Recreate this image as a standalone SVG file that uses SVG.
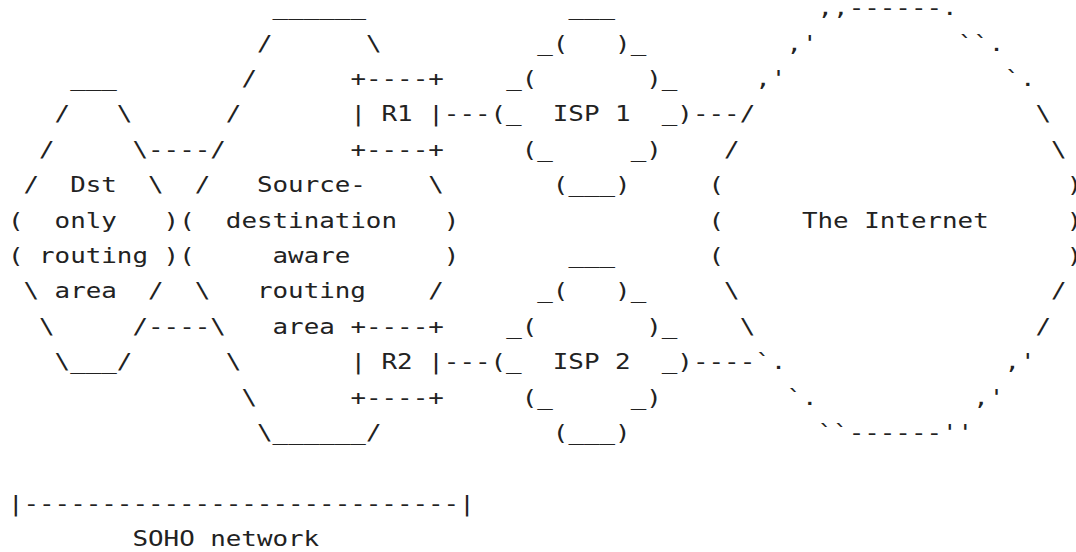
<svg xmlns="http://www.w3.org/2000/svg" width="1076" height="552" viewBox="0 0 1076 552">
<style>
text{font-family:"DejaVu Sans Mono","Liberation Mono",monospace;font-size:21.5px;fill:#222;white-space:pre}
</style>
<rect width="1076" height="552" fill="#fff"/>
<g transform="translate(7.9 0) scale(1.2028 1)" xml:space="preserve">
<g id="dst-area">
<text x="51.78" y="86.1">___</text>
<text x="38.835" y="121.5">/   \</text>
<text x="25.89" y="156.9">/</text>
<text x="103.56" y="156.9">\</text>
<text x="12.945" y="192.3">/  Dst  \</text>
<text x="0" y="227.7">(  only   )</text>
<text x="0" y="263.1">( routing )</text>
<text x="12.945" y="298.5">\ area  /</text>
<text x="25.89" y="333.9">\</text>
<text x="103.56" y="333.9">/</text>
<text x="38.835" y="369.3">\___/</text>
</g>
<g id="sadr-area">
<text x="220.065" y="15.3">______</text>
<text x="207.12" y="50.7">/      \</text>
<text x="194.175" y="86.1">/</text>
<text x="181.23" y="121.5">/</text>
<text x="168.285" y="156.9">/</text>
<text x="155.34" y="192.3">/   Source-    \</text>
<text x="142.395" y="227.7">(  destination   )</text>
<text x="142.395" y="263.1">(     aware      )</text>
<text x="155.34" y="298.5">\   routing    /</text>
<text x="168.285" y="333.9">\   area</text>
<text x="181.23" y="369.3">\</text>
<text x="194.175" y="404.7">\</text>
<text x="207.12" y="440.1">\______/</text>
</g>
<g id="r1">
<text x="284.79" y="86.1">+----+</text>
<text x="284.79" y="121.5">| R1 |</text>
<text x="284.79" y="156.9">+----+</text>
</g>
<g id="r2">
<text x="284.79" y="333.9">+----+</text>
<text x="284.79" y="369.3">| R2 |</text>
<text x="284.79" y="404.7">+----+</text>
</g>
<g id="isp1">
<text x="466.02" y="15.3">___</text>
<text x="440.13" y="50.7">_(   )_</text>
<text x="414.24" y="86.1">_(       )_</text>
<text x="401.295" y="121.5">(_  ISP 1  _)</text>
<text x="427.185" y="156.9">(_     _)</text>
<text x="453.075" y="192.3">(___)</text>
</g>
<g id="isp2">
<text x="466.02" y="263.1">___</text>
<text x="440.13" y="298.5">_(   )_</text>
<text x="414.24" y="333.9">_(       )_</text>
<text x="401.295" y="369.3">(_  ISP 2  _)</text>
<text x="427.185" y="404.7">(_     _)</text>
<text x="453.075" y="440.1">(___)</text>
</g>
<g id="internet">
<text x="673.14" y="15.3">,,------.</text>
<text x="647.25" y="50.7">,'</text>
<text x="789.645" y="50.7">``.</text>
<text x="621.36" y="86.1">,'</text>
<text x="828.48" y="86.1">`.</text>
<text x="608.415" y="121.5">/</text>
<text x="854.37" y="121.5">\</text>
<text x="595.47" y="156.9">/</text>
<text x="867.315" y="156.9">\</text>
<text x="582.525" y="192.3">(</text>
<text x="880.26" y="192.3">)</text>
<text x="582.525" y="227.7">(</text>
<text x="660.195" y="227.7">The Internet</text>
<text x="880.26" y="227.7">)</text>
<text x="582.525" y="263.1">(</text>
<text x="880.26" y="263.1">)</text>
<text x="595.47" y="298.5">\</text>
<text x="867.315" y="298.5">/</text>
<text x="608.415" y="333.9">\</text>
<text x="854.37" y="333.9">/</text>
<text x="621.36" y="369.3">`.</text>
<text x="828.48" y="369.3">,'</text>
<text x="647.25" y="404.7">`.</text>
<text x="802.59" y="404.7">,'</text>
<text x="673.14" y="440.1">``------''</text>
</g>
<g id="connectors">
<text x="116.505" y="156.9">----</text>
<text x="116.505" y="333.9">----</text>
<text x="362.46" y="121.5">---</text>
<text x="569.58" y="121.5">---</text>
<text x="362.46" y="369.3">---</text>
<text x="569.58" y="369.3">----</text>
</g>
<g id="soho">
<text x="0" y="510.9">|----------------------------|</text>
<text x="103.56" y="546.3">SOHO network</text>
</g>
</g>
</svg>
